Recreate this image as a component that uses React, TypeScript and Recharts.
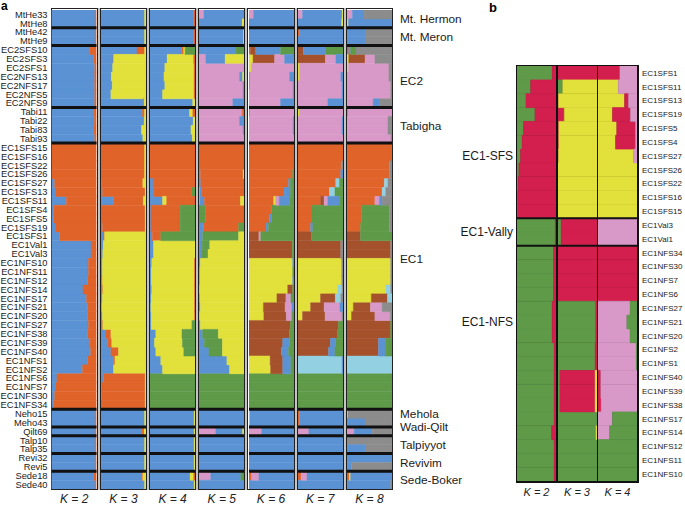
import React from 'react';
import { BarChart, Bar, XAxis, YAxis, Cell, ReferenceLine } from 'recharts';

const FONT = '"Liberation Sans", Arial, Helvetica, sans-serif';

const PALETTE: Record<string, string> = {
  b: '#5a92d4', // blue
  o: '#e0632a', // orange
  y: '#e2e03a', // yellow
  g: '#5e9a48', // green
  p: '#d899c8', // pink
  n: '#a5512c', // brown
  l: '#93d1e2', // light blue
  x: '#8c8c8c', // grey
  c: '#d21f4e', // crimson
};

// ---------- Panel a ----------
const rowsA = ['MtHe33','MtHe8','MtHe42','MtHe9','EC2SFS10','EC2SFS3','EC2SFS1','EC2NFS13','EC2NFS17','EC2NFS5','EC2NFS9','Tabi11','Tabi22','Tabi83','Tabi93','EC1SFS15','EC1SFS16','EC1SFS22','EC1SFS26','EC1SFS27','EC1SFS13','EC1SFS11','EC1SFS4','EC1SFS5','EC1SFS19','EC1SFS1','EC1Val1','EC1Val3','EC1NFS10','EC1NFS11','EC1NFS12','EC1NFS14','EC1NFS17','EC1NFS21','EC1NFS20','EC1NFS27','EC1NFS38','EC1NFS39','EC1NFS40','EC1NFS1','EC1NFS2','EC1NFS6','EC1NFS7','EC1NFS30','EC1NFS34','Neho15','Meho43','Qilt69','Talp10','Talp35','Revi32','Revi5','Sede18','Sede40'];
const groupStartsA = ['MtHe42','EC2SFS10','Tabi11','EC1SFS15','Neho15','Qilt69','Talp10','Revi32','Sede18'];
const groupNamesA = ['Mt. Hermon','Mt. Meron','EC2','Tabigha','EC1','Mehola','Wadi-Qilt','Talpiyyot','Revivim','Sede-Boker'];
const kLabelsA = ['K = 2','K = 3','K = 4','K = 5','K = 6','K = 7','K = 8'];

const k2A = [
  'b97 o3','b97 o3','b97 o3','b97 o3',
  'b84 o16','b93 o7','b96 o4','b96 o4','b96 o4','b96 o4','b96 o4',
  'b93 o7','b95 o5','b94 o6','b96 o4',
  'o100','o100','o100','b1 o99','b7 o93','b10 o90','b33 o67','b4 o96','b5 o95','b10 o90','b18 o82',
  'b88 o12','b88 o12',
  'b82 o18','b82 o18','b80 o20','b70 o30','b78 o22','b80 o20','b80 o20','b82 o18','b80 o20','b84 o16','b87 o13','b80 o20','b69 o31','b12 o88','b10 o90','b7 o93','b4 o96',
  'b97 o3','b97 o3','b97 o3','b97 o3','b97 o3','b97 o3','b97 o3','b94 o6','b97 o3',
];
const k3A = [
  'b97 y3','b97 y3','b97 y3','b97 y3',
  'b80 o17 y3','b27 o1 y72','b26 y74','b23 y77','b25 y75','b22 y78','b94 o2 y4',
  'b92 o5 y3','b96 y4','b90 y10','b93 y7',
  'o97 y3','o97 y3','o97 y3','o97 y3','b1 o92 y7','b3 o95 y2','b28 o66 y6','o98 y2','o98 y2','b3 o95 y2','b7 o1 y92',
  'b5 y95','b4 y96',
  'b3 y97','b3 y97','b2 o1 y97','b3 o1 y96','b3 y97','b2 y98','b3 y97','b3 o1 y96','b11 o11 y78','b14 o10 y76','b22 o17 y61','b28 o3 y69','b28 y72','b5 o93 y2','b2 o96 y2','b1 o97 y2','o98 y2',
  'b97 y3','b97 y3','b90 o6 y4','b97 y3','b97 y3','b97 y3','b97 y3','b90 o3 y7','b97 y3',
];
const k4A = [
  'b97 o3','b97 o3','b97 o3','b97 o3',
  'b70 o5 y3 g22','b38 y59 o3','b33 y65 o2','b31 y67 o2','b33 y65 o2','b28 y70 o2','b95 y5',
  'b88 y7 o5','b96 y4','b91 y9','b94 y6',
  'o100','o100','o100','o100','b7 o93','b9 o84 g7','b28 y9 o63','b2 o65 g33','b2 o65 g33','b2 o65 g33','b5 o19 g76',
  'b8 y92','b8 y92',
  'b4 y95 o1','b3 y96 o1','b3 y96 o1','b4 y95 o1','b3 y96 o1','b2 y97 o1','b3 y96 o1','b3 y90 g7','b13 y58 g29','b10 y62 g28','b13 y62 g25','b24 y76','b28 y72','g100','g100','g100','g100',
  'b98 y2','b98 y2','b98 y2','b98 y2','b98 y2','b98 y2','b98 y2','b89 y8 o3','b98 y2',
];
const k5A = [
  'p11 b89','b96 y4','b99 y1','b99 y1',
  'b81 g19','p15 b43 y42','p100','p90 b7 y3','p98 b2','p98 b2','p75 b25',
  'p96 o4','p90 b10','p98 b2','p100',
  'o100','o100','o100','b3 o95 y2','b4 o96','p2 b4 o94','p2 b10 o80 y8','g15 o85','g15 o85','b10 o78 g12','b8 g80 y12',
  'b7 g17 y76','b5 g15 y80',
  'b3 y97','b2 y98','b2 y98','p2 y98','b2 y98','b3 y97','p2 y98','b3 y97','b8 g35 y57','b12 g40 y48','b22 g30 y48','b62 y38','b68 y32','g100','g100','g100','g100',
  'b100','b100','p37 b60 y3','b100','b100','b100','b100','p26 b67 g7','b100',
];
const k6A = [
  'p10 b90','o2 b98','o2 b98','b100',
  'o3 n12 b55 g30','y9 n48 p22 b21','y5 p95','o2 p88 b10','o2 p96 b2','p98 b2','p70 b30',
  'o2 p98','p98 b2','p98 b2','p100',
  'o100','o100','o100','o97 g3','o88 b4 g8','o78 b14 g8','o55 y4 p8 b23 g10','o50 g50','o45 b5 g50','o38 b5 g57','n22 p4 g74',
  'n96 g4','n96 g4',
  'y97 b3','y97 g3','y97 b3','y86 n11 g3','y62 n20 p11 g7','y32 n48 p15 b5','y33 n50 p12 g5','n92 g8','n90 g10','n75 b15 g10','n72 b16 g12','y47 n28 b18 g7','y48 n27 b18 g7','g100','g100','g100','g100',
  'y2 b98','y2 b98','p28 b72','b100','b100','b100','b100','o6 p16 b78','b100',
];
const k7A = [
  'p10 b88 y2','b97 y3','o3 b97','b100',
  'n12 b50 g38','n61 p23 b16','y3 p97','y3 p92 b5','p98 b2','p98 b2','p66 b34',
  'y3 p97','p98 b2','p98 b2','p100',
  'o100','o100','o96 x4','o95 b5','o84 l8 g8','o70 l12 g18','o50 n8 p8 b26 g8','o31 g69','o31 g69','o28 b5 g67','n30 g70',
  'n95 x5','n95 x5',
  'y97 x3','y97 x3','y97 x3','y88 l10 x2','y50 n33 l12 x5','y28 n30 p35 b7','y10 n50 p38 x2','n90 g10','n88 g12','n72 b12 g16','n68 b14 g18','l98 b2','l98 b2','g100','g100','g100','g100',
  'o3 b97','o3 b97','p24 b76','b100','b100','b100','b100','o7 p13 b80','b100',
];
const k8A = [
  'p12 b26 x62','y3 b97','b42 x58','b42 x58',
  'o4 b4 g12 x80','y4 n36 p22 x38','y3 p90 x7','p93 x7','p97 x3','p97 x3','p58 b15 x27',
  'o2 p98','p91 x9','p91 x9','p98 x2',
  'o100','o100','o94 x6','o94 x6','o83 l8 x9','o78 l8 x14','o62 p10 b6 x22','o32 g62 x6','o32 g62 x6','o30 g64 x6','n30 g70',
  'n97 x3','n97 x3',
  'y97 x3','y97 x3','y97 x3','y86 l11 x3','y54 n36 l10','y14 n38 p26 x22','y10 n52 p34 x4','n97 g3','n97 g3','n70 b15 g15','n70 b15 g15','l100','l100','g100','g100','g100','g100',
  'y2 x98','b40 x60','p16 b40 x44','x100','b42 x58','b100','b10 x90','o5 y3 b92','b97 x3',
];

// ---------- Panel b ----------
const rowsB = ['EC1SFS1','EC1SFS11','EC1SFS13','EC1SFS19','EC1SFS5','EC1SFS4','EC1SFS27','EC1SFS26','EC1SFS22','EC1SFS16','EC1SFS15','EC1Val3','EC1Val1','EC1NFS34','EC1NFS30','EC1NFS7','EC1NFS6','EC1NFS27','EC1NFS21','EC1NFS20','EC1NFS2','EC1NFS1','EC1NFS40','EC1NFS39','EC1NFS38','EC1NFS17','EC1NFS14','EC1NFS12','EC1NFS11','EC1NFS10'];
const groupStartsB = ['EC1Val3','EC1NFS34'];
const groupNamesB = ['EC1-SFS','EC1-Vally','EC1-NFS'];
const kLabelsB = ['K = 2','K = 3','K = 4'];

const k2B = [
  'g90 c10','g35 c65','g23 c77','g46 c54','g17 c83','g13 c87','g9 c91','g5 c95','g3 c97','g2 c98','g2 c98',
  'g98 c2','g98 c2',
  'g94 c6','g94 c6','g94 c6','g94 c6','g90 c10','g90 c10','g90 c10','g95 c5','g95 c5','g95 c5','g95 c5','g95 c5','g95 c5','g89 c11','g95 c5','g95 c5','g95 c5',
];
const k3B = [
  'c100','g12 y88','c1 y99','c16 y84','c2 y98','c2 y98','c1 y99','y100','y100','y100','y100',
  'g8 c92','g8 c92',
  'c100','c100','c100','c100','g97 c3','g97 c3','g97 c3','g95 c5','g95 c5','g5 c90 y5','g5 c90 y5','g5 c90 y5','g100','g97 y3','g100','g100','g100',
];
const k4B = [
  'c56 p44','y52 p48','y68 c10 p22','y37 c46 p17','y48 c48 p4','y45 c51 p4','y91 p9','y100','y100','y100','y100',
  'p100','p100',
  'c100','c100','c100','c100','p82 g18','p74 g26','p82 g18','p98 g2','p98 g2','c7 p93','c7 p93','c8 p92','p37 g63','p30 g70','g100','g100','g100',
];

type Seg = { c: string; v: number };
function parse(rows: string[]): Seg[][] {
  return rows.map((r) => {
    const segs = r.trim().split(/\s+/).map((t) => ({ c: t[0], v: parseFloat(t.slice(1)) }));
    const sum = segs.reduce((a, s) => a + s.v, 0) || 1;
    return segs.map((s) => ({ c: s.c, v: s.v / sum }));
  });
}

type RefLab = { row: string; pos: 'start' | 'middle' | 'end'; text: string; side: 'left' | 'right'; size: number; offset: number };

function Structure(props: {
  labels: string[]; spec: string[]; left: number; top: number; innerW: number; innerH: number;
  axis?: 'left' | 'right' | 'none'; axisW?: number; tickSize?: number; extraLeft?: number; extraRight?: number;
  seps: string[]; sepW: number; refs?: RefLab[];
}) {
  const { labels, spec, left, top, innerW, innerH, axis = 'none', axisW = 0, tickSize = 9, extraLeft = 0, extraRight = 0, seps, sepW, refs = [] } = props;
  const segs = parse(spec);
  const n = Math.max(...segs.map((s) => s.length));
  const data = labels.map((name, i) => {
    const d: Record<string, any> = { name };
    for (let j = 0; j < n; j++) d['s' + j] = segs[i]?.[j]?.v ?? 0;
    return d;
  });
  const leftPad = (axis === 'left' ? axisW : 0) + extraLeft;
  const rightPad = (axis === 'right' ? axisW : 0) + extraRight;
  return (
    <div style={{ position: 'absolute', left: left - leftPad, top }}>
      <BarChart
        layout="vertical"
        width={innerW + leftPad + rightPad}
        height={innerH}
        data={data}
        margin={{ top: 0, bottom: 0, left: extraLeft, right: extraRight }}
        barCategoryGap={0}
        barGap={0}
      >
        <XAxis type="number" domain={[0, 1]} hide allowDataOverflow />
        {axis === 'none' ? (
          <YAxis type="category" dataKey="name" hide />
        ) : (
          <YAxis
            type="category"
            dataKey="name"
            orientation={axis}
            width={axisW}
            interval={0}
            tickLine={false}
            axisLine={false}
            tickSize={axis === 'left' ? 2 : 0}
            tickMargin={axis === 'left' ? 2 : 5}
            tick={{ fontSize: tickSize, fill: '#1a1a1a', fontFamily: FONT }}
          />
        )}
        {Array.from({ length: n }, (_, j) => (
          <Bar key={j} dataKey={'s' + j} stackId="a" isAnimationActive={false}>
            {segs.map((row, i) => {
              const s = row[j];
              const f = s ? PALETTE[s.c] : 'none';
              return <Cell key={i} fill={f} stroke={f} strokeWidth={0.4} />;
            })}
          </Bar>
        ))}
        {seps.map((r) => (
          <ReferenceLine key={'sep' + r} y={r} position="start" stroke="#111" strokeWidth={sepW} ifOverflow="visible" />
        ))}
        {refs.map((rl) => (
          <ReferenceLine
            key={'lab' + rl.text}
            y={rl.row}
            position={rl.pos}
            stroke="none"
            ifOverflow="visible"
            label={{ value: rl.text, position: rl.side, offset: rl.offset, fontSize: rl.size, fill: '#1a1a1a', fontFamily: FONT }}
          />
        ))}
      </BarChart>
    </div>
  );
}

const A_LEFT = 50.5;
const A_TOP = 8;
const A_H = 482;
const PITCH = 49.2;
const FRAME_W = 47.4;
const BORDER_X = 1.2;
const BORDER_Y = 1.5;

const B_LEFT = 515.5;
const B_TOP = 64.5;
const B_BORDER = 1.5;
const B_COL_W = 39;
const B_GAP = 1.5;
const B_H = 418;

export default function App() {
  const colsA = [k2A, k3A, k4A, k5A, k6A, k7A, k8A];
  const colsB = [k2B, k3B, k4B];
  const anchorsA: [string, 'start' | 'middle' | 'end'][] = [
    ['MtHe33', 'end'], ['MtHe42', 'end'], ['EC2NFS13', 'end'], ['Tabi22', 'end'], ['EC1NFS10', 'start'],
    ['Neho15', 'middle'], ['Qilt69', 'start'], ['Talp10', 'end'], ['Revi32', 'end'], ['Sede18', 'end'],
  ];
  const refsA: RefLab[] = groupNamesA.map((t, i) => ({ row: anchorsA[i][0], pos: anchorsA[i][1], text: t, side: 'right', size: 11.8, offset: 8 }));
  const anchorsB: [string, 'middle' | 'end'][] = [['EC1SFS27', 'middle'], ['EC1Val3', 'end'], ['EC1NFS21', 'middle']];
  const refsB: RefLab[] = groupNamesB.map((t, i) => ({ row: anchorsB[i][0], pos: anchorsB[i][1], text: t, side: 'left', size: 12, offset: 4 }));
  const innerW = FRAME_W - 2 * BORDER_X;
  const innerH = A_H - 2 * BORDER_Y;
  const bInnerTop = B_TOP + B_BORDER;
  const bInnerH = B_H - 2 * B_BORDER;
  const bInnerLeft = B_LEFT + B_BORDER;

  return (
    <div style={{ position: 'absolute', left: 0, top: 0, width: 685, height: 505, background: '#fff', fontFamily: FONT, overflow: 'hidden' }}>
      <div style={{ position: 'absolute', left: 1, top: 0, fontSize: 12, fontWeight: 'bold', lineHeight: '13.4px' }}>a</div>
      <div style={{ position: 'absolute', left: 489, top: 1, fontSize: 13, fontWeight: 'bold', lineHeight: '14.5px' }}>b</div>

      {/* Panel a */}
      <div style={{ position: 'absolute', left: A_LEFT, top: A_TOP, width: 6 * PITCH + FRAME_W, height: A_H, background: '#c4c4c4' }} />
      {colsA.map((spec, k) => {
        const fl = A_LEFT + k * PITCH;
        return (
          <React.Fragment key={k}>
            <div style={{ position: 'absolute', left: fl, top: A_TOP, width: FRAME_W, height: A_H, boxSizing: 'border-box', border: `${BORDER_X}px solid #222`, borderTopWidth: BORDER_Y, borderBottomWidth: BORDER_Y, background: '#fff' }} />
            <Structure
              labels={rowsA}
              spec={spec}
              left={fl + BORDER_X}
              top={A_TOP + BORDER_Y}
              innerW={innerW}
              innerH={innerH}
              axis={k === 0 ? 'left' : 'none'}
              axisW={51.5}
              tickSize={9.3}
              extraRight={k === 6 ? 95 : 0}
              seps={groupStartsA}
              sepW={3}
              refs={k === 6 ? refsA : []}
            />
            <div style={{ position: 'absolute', left: fl + FRAME_W / 2 - 30, width: 60, top: 493, textAlign: 'center', fontSize: 12, lineHeight: '12px', fontStyle: 'italic', color: '#222' }}>{kLabelsA[k]}</div>
          </React.Fragment>
        );
      })}

      {/* Panel b */}
      <div style={{ position: 'absolute', left: B_LEFT, top: B_TOP, width: 3 * B_COL_W + 2 * B_GAP + 2 * B_BORDER, height: B_H, background: '#111' }} />
      {colsB.map((spec, k) => {
        const il = bInnerLeft + k * (B_COL_W + B_GAP);
        return (
          <React.Fragment key={k}>
            <Structure
              labels={rowsB}
              spec={spec}
              left={il}
              top={bInnerTop}
              innerW={B_COL_W}
              innerH={bInnerH}
              axis={k === 2 ? 'right' : 'none'}
              axisW={50}
              tickSize={8}
              extraLeft={k === 0 ? 60 : 0}
              seps={groupStartsB}
              sepW={2}
              refs={k === 0 ? refsB : []}
            />
            <div style={{ position: 'absolute', left: il + B_COL_W / 2 - 30, width: 60, top: 486.5, textAlign: 'center', fontSize: 11, lineHeight: '11px', fontStyle: 'italic', color: '#222' }}>{kLabelsB[k]}</div>
          </React.Fragment>
        );
      })}
    </div>
  );
}
